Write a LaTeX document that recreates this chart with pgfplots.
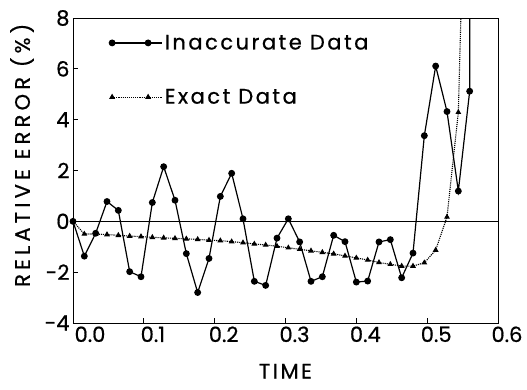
\documentclass[border=0pt]{standalone}
\usepackage{pgfplots}
\pgfplotsset{compat=1.18}
\usepackage{fontspec}
\setmainfont{Poppins}[FakeBold=0.7]
\newfontfamily\spaced{Poppins}[LetterSpace=12, FakeBold=0.7]
\newfontfamily\wide{Poppins}[LetterSpace=20, FakeBold=0.7]

\pgfplotstableread{
t y
0.000 0
0.016 -1.37
0.032 -0.47
0.048 0.78
0.064 0.43
0.080 -1.98
0.096 -2.18
0.112 0.74
0.128 2.15
0.144 0.83
0.160 -1.27
0.176 -2.80
0.192 -1.46
0.208 0.98
0.224 1.89
0.240 0.10
0.256 -2.36
0.272 -2.52
0.288 -0.66
0.304 0.10
0.320 -0.81
0.336 -2.36
0.352 -2.18
0.368 -0.55
0.384 -0.80
0.400 -2.39
0.416 -2.35
0.432 -0.81
0.448 -0.72
0.464 -2.22
0.480 -1.25
0.496 3.37
0.512 6.11
0.528 4.32
0.544 1.19
0.560 5.12
0.5605 65
}\inaccurate

\pgfplotstableread{
t y
0.000 0
0.016 -0.50
0.032 -0.50
0.048 -0.52
0.064 -0.55
0.080 -0.58
0.096 -0.60
0.112 -0.63
0.128 -0.65
0.144 -0.67
0.160 -0.69
0.176 -0.71
0.192 -0.74
0.208 -0.76
0.224 -0.80
0.240 -0.84
0.256 -0.89
0.272 -0.93
0.288 -0.98
0.304 -1.04
0.320 -1.10
0.336 -1.16
0.352 -1.22
0.368 -1.28
0.384 -1.36
0.400 -1.44
0.416 -1.52
0.432 -1.62
0.448 -1.69
0.464 -1.76
0.480 -1.76
0.496 -1.63
0.512 -1.13
0.528 0.17
0.544 4.29
0.560 21
}\exact

\begin{document}
\begin{tikzpicture}
\begin{axis}[
  scale only axis, width=425pt, height=305pt,
  xmin=0, xmax=0.6, ymin=-4, ymax=8,
  axis line style={line width=0.8pt},
  tick align=inside, xtick pos=bottom, ytick pos=left,
  major tick length=5pt,
  tick style={line width=0.8pt, black},
  /pgf/number format/assume math mode=true,
  xtick={0.1,0.2,0.3,0.4,0.5,0.6},
  xticklabels={0.1,0.2,0.3,0.4,0.5,0.6},
  extra x ticks={0}, extra x tick labels={0.0},
  extra x tick style={xticklabel style={xshift=8pt}},
  xticklabel style={xshift=9pt, font=\fontsize{21}{24}\selectfont},
  ytick={-4,-2,0,2,4,6,8},
  yticklabels={-4,-2,0,2,4,6,8},
  yticklabel style={font=\fontsize{21}{24}\selectfont},
  xlabel={TIME},
  ylabel={RELATIVE ERROR (\%)},
  xlabel style={at={(axis description cs:0.5,-0.158)}, anchor=center, font=\spaced\fontsize{21}{24}\selectfont},
  ylabel style={at={(axis description cs:-0.12,0.55)}, anchor=center, rotate=0, font=\wide\fontsize{21}{24}\selectfont},
  legend style={at={(axis description cs:0.085,0.952)}, anchor=north west, draw=none, fill=none,
    font=\spaced\fontsize{21}{24}\selectfont, row sep=34pt, inner sep=0pt},
  legend cell align=left,
  legend image code/.code={\draw[#1] plot coordinates {(0pt,0pt) (36pt,0pt)}; \path (0pt,0pt) -- (50pt,0pt);},
]
\addplot[black, line width=0.5pt, forget plot] coordinates {(0,0) (0.6,0)};
\addplot[black, line width=1.2pt, mark=*, mark size=2.8pt, mark options={solid}] table[x=t, y=y] {\inaccurate};
\addlegendentry{Inaccurate Data}
\addplot[black, line width=1.1pt, densely dotted, mark=triangle*, mark size=2.3pt, mark options={solid}] table[x=t, y=y] {\exact};
\addlegendentry{Exact Data}
\end{axis}
\path ([shift={(-73pt,-66pt)}]current axis.south west) rectangle ([shift={(29pt,18pt)}]current axis.north east);
\end{tikzpicture}
\end{document}
